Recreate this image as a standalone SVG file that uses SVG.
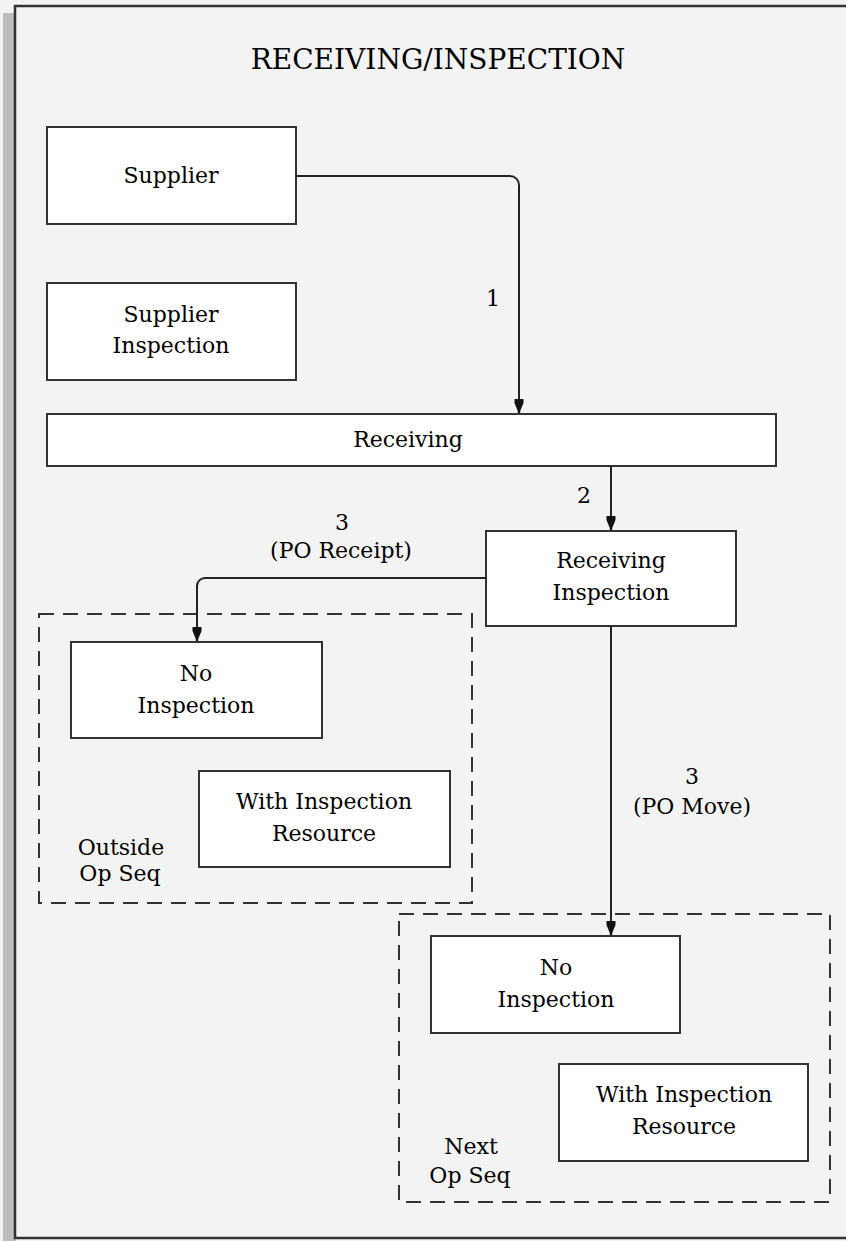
<svg xmlns="http://www.w3.org/2000/svg" width="846" height="1241" viewBox="0 0 846 1241">
<style>
.node{fill:#ffffff;stroke:#333333;stroke-width:2}
.group{fill:none;stroke:#333333;stroke-width:2;stroke-dasharray:15 9}
.conn{fill:none;stroke:#222222;stroke-width:2}
text{font-family:"DejaVu Serif","Liberation Serif",serif;font-size:22px;fill:#000000;text-anchor:middle}
.title{font-size:28px}
</style>
<defs>
<marker id="ah" viewBox="-15 -6 16 12" markerWidth="16" markerHeight="12" refX="0" refY="0" orient="auto" markerUnits="userSpaceOnUse">
<path d="M-14,-4.5 L-10,-4.5 L-2,-1.2 L0,-1.2 L0,1.2 L-2,1.2 L-10,4.5 L-14,4.5 Z" fill="#111111"/>
</marker>
</defs>
<rect x="0" y="0" width="846" height="1241" fill="#f3f3f3"/>
<rect x="3" y="13" width="13" height="1228" fill="#bdbdbd"/>
<rect id="frame" x="15" y="6" width="840" height="1232" fill="#f3f3f3" stroke="#333333" stroke-width="2.5"/>
<text class="title" x="438" y="69">RECEIVING/INSPECTION</text>

<g id="supplier">
<rect class="node" x="47" y="127" width="249" height="97"/>
<text x="171" y="183">Supplier</text>
</g>
<g id="supplier-inspection">
<rect class="node" x="47" y="283" width="249" height="97"/>
<text x="171" y="322">Supplier</text>
<text x="171" y="353">Inspection</text>
</g>
<g id="receiving">
<rect class="node" x="47" y="414" width="729" height="52"/>
<text x="408" y="447">Receiving</text>
</g>
<g id="receiving-inspection">
<rect class="node" x="486" y="531" width="250" height="95"/>
<text x="611" y="568">Receiving</text>
<text x="611" y="600">Inspection</text>
</g>

<g id="outside-op-seq">
<rect class="group" x="39" y="614" width="433" height="289"/>
<text x="121" y="855">Outside</text>
<text x="120" y="881">Op Seq</text>
</g>
<g id="no-inspection-1">
<rect class="node" x="71" y="642" width="251" height="96"/>
<text x="196" y="681">No</text>
<text x="196" y="713">Inspection</text>
</g>
<g id="with-inspection-1">
<rect class="node" x="199" y="771" width="251" height="96"/>
<text x="324" y="809">With Inspection</text>
<text x="324" y="841">Resource</text>
</g>

<g id="next-op-seq">
<rect class="group" x="399" y="914" width="431" height="288"/>
<text x="471" y="1154">Next</text>
<text x="470" y="1183">Op Seq</text>
</g>
<g id="no-inspection-2">
<rect class="node" x="431" y="936" width="249" height="97"/>
<text x="556" y="975">No</text>
<text x="556" y="1007">Inspection</text>
</g>
<g id="with-inspection-2">
<rect class="node" x="559" y="1064" width="249" height="97"/>
<text x="684" y="1102">With Inspection</text>
<text x="684" y="1134">Resource</text>
</g>

<g id="connectors">
<path class="conn" d="M296,176 H510 A9,9 0 0 1 519,185 V413" marker-end="url(#ah)"/>
<text x="493" y="306">1</text>
<path class="conn" d="M611,466 V530" marker-end="url(#ah)"/>
<text x="584" y="503">2</text>
<path class="conn" d="M486,578 H205 A8,8 0 0 0 197,586 V641" marker-end="url(#ah)"/>
<text x="342" y="530">3</text>
<text x="341" y="558">(PO Receipt)</text>
<path class="conn" d="M611,626 V935" marker-end="url(#ah)"/>
<text x="692" y="784">3</text>
<text x="692" y="814">(PO Move)</text>
</g>
</svg>
